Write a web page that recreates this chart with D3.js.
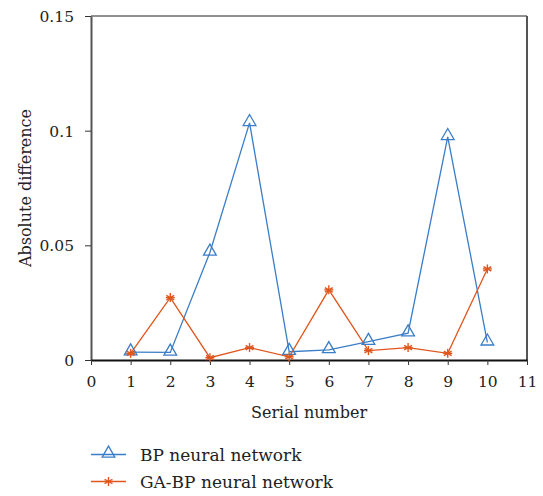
<!DOCTYPE html>
<html>
<head>
<meta charset="utf-8">
<script src="https://cdn.jsdelivr.net/npm/d3@7"></script>
<style>
  body { margin: 0; background: #fff; }
  text { font-family: "DejaVu Serif", serif; fill: #222; }
</style>
</head>
<body>
<div id="chart"></div>
<script>
// Absolute difference per sample, BP vs GA-BP network
const serials = [1, 2, 3, 4, 5, 6, 7, 8, 9, 10];
const bpValues = [0.0034, 0.0033, 0.0469, 0.1034, 0.0036, 0.0044, 0.0080, 0.0117, 0.0973, 0.0077];
const gabpValues = [0.0029, 0.0272, 0.0010, 0.0054, 0.0014, 0.0306, 0.0041, 0.0054, 0.0029, 0.0397];
const xTicks = [0, 1, 2, 3, 4, 5, 6, 7, 8, 9, 10, 11];
const yTicks = [0, 0.05, 0.1, 0.15];
const yTickLabels = ['0', '0.05', '0.1', '0.15'];
const seriesNames = ['BP neural network', 'GA-BP neural network'];

const width = 543, height = 496;
const margin = { top: 16, right: 16, bottom: 136, left: 91 };
const blue = '#3a7dc8', orange = '#e0561c';
const fontFam = '"DejaVu Serif", serif';

const svg = d3.select('#chart').append('svg')
  .attr('width', width)
  .attr('height', height);

const x = d3.scaleLinear().domain([0, 11]).range([margin.left, width - margin.right]);
const y = d3.scaleLinear().domain([0, 0.15]).range([height - margin.bottom, margin.top]);

// frame: top and right
svg.append('line')
  .attr('x1', x(0)).attr('x2', x(11))
  .attr('y1', y(0.15)).attr('y2', y(0.15))
  .attr('stroke', '#222').attr('stroke-width', 1);
svg.append('line')
  .attr('x1', x(11)).attr('x2', x(11))
  .attr('y1', y(0.15)).attr('y2', y(0))
  .attr('stroke', '#555').attr('stroke-width', 2);

// y axis
const yAxis = svg.append('g')
  .attr('transform', `translate(${x(0)},0)`)
  .call(d3.axisLeft(y).tickValues(yTicks).tickFormat((d, i) => yTickLabels[i]).tickSize(6).tickSizeOuter(0));
yAxis.select('.domain').attr('stroke', '#555').attr('stroke-width', 2);
yAxis.selectAll('.tick line').attr('stroke', '#333');
yAxis.selectAll('.tick text')
  .attr('x', -17)
  .attr('dy', '0.36em')
  .style('font-size', '15.5px')
  .style('font-family', fontFam)
  .attr('fill', '#222');

// x axis
const xAxis = svg.append('g')
  .attr('transform', `translate(0,${y(0)})`)
  .call(d3.axisBottom(x).tickValues(xTicks).tickFormat(d3.format('d')).tickSize(5).tickSizeOuter(0));
xAxis.select('.domain').attr('stroke', '#111').attr('stroke-width', 2);
xAxis.selectAll('.tick line').attr('stroke', '#333');
xAxis.selectAll('.tick text')
  .attr('y', 16)
  .style('font-size', '15.5px')
  .style('font-family', fontFam)
  .attr('fill', '#222');

// axis titles
svg.append('text')
  .attr('x', (x(0) + x(11)) / 2)
  .attr('y', 418)
  .attr('text-anchor', 'middle')
  .style('font-size', '16px')
  .text('Serial number');

svg.append('text')
  .attr('transform', `translate(31,${(y(0) + y(0.15)) / 2}) rotate(-90)`)
  .attr('text-anchor', 'middle')
  .style('font-size', '16px')
  .text('Absolute difference');

const line = d3.line()
  .x((d, i) => x(serials[i]))
  .y(d => y(d));

const triangle = d3.symbol().type(d3.symbolTriangle).size(70);

function star(g, size) {
  const r = size;
  [0, 60, 120].forEach(a => {
    const rad = a * Math.PI / 180;
    g.append('line')
      .attr('x1', -r * Math.sin(rad)).attr('y1', -r * Math.cos(rad))
      .attr('x2', r * Math.sin(rad)).attr('y2', r * Math.cos(rad));
  });
  g.append('line').attr('x1', -r).attr('x2', r).attr('y1', 0).attr('y2', 0);
}

// BP series
svg.append('path')
  .datum(bpValues)
  .attr('fill', 'none')
  .attr('stroke', blue)
  .attr('stroke-width', 1.3)
  .attr('d', line);

// GA-BP series
svg.append('path')
  .datum(gabpValues)
  .attr('fill', 'none')
  .attr('stroke', orange)
  .attr('stroke-width', 1.3)
  .attr('d', line);

svg.append('g').selectAll('path')
  .data(bpValues)
  .enter().append('path')
  .attr('transform', (d, i) => `translate(${x(serials[i])},${y(d) - 1})`)
  .attr('d', triangle)
  .attr('fill', 'none')
  .attr('stroke', blue)
  .attr('stroke-width', 1.3);

svg.append('g').selectAll('g')
  .data(gabpValues)
  .enter().append('g')
  .attr('transform', (d, i) => `translate(${x(serials[i])},${y(d)})`)
  .attr('stroke', orange)
  .attr('stroke-width', 1.4)
  .each(function () { star(d3.select(this), 4.5); });

// legend
const legend = svg.append('g');
const legendRows = [
  { name: seriesNames[0], color: blue, y: 454.5, marker: 'tri' },
  { name: seriesNames[1], color: orange, y: 481.5, marker: 'star' }
];
legendRows.forEach(row => {
  legend.append('line')
    .attr('x1', 91).attr('x2', 126)
    .attr('y1', row.y).attr('y2', row.y)
    .attr('stroke', row.color).attr('stroke-width', 1.3);
  if (row.marker === 'tri') {
    legend.append('path')
      .attr('transform', `translate(108.5,${row.y - 1})`)
      .attr('d', triangle)
      .attr('fill', 'none')
      .attr('stroke', row.color)
      .attr('stroke-width', 1.3);
  } else {
    const g = legend.append('g')
      .attr('transform', `translate(108.5,${row.y})`)
      .attr('stroke', row.color)
      .attr('stroke-width', 1.4);
    star(g, 4.5);
  }
  legend.append('text')
    .attr('x', 140)
    .attr('y', row.y + 6)
    .style('font-size', '17px')
    .text(row.name);
});
</script>
</body>
</html>
